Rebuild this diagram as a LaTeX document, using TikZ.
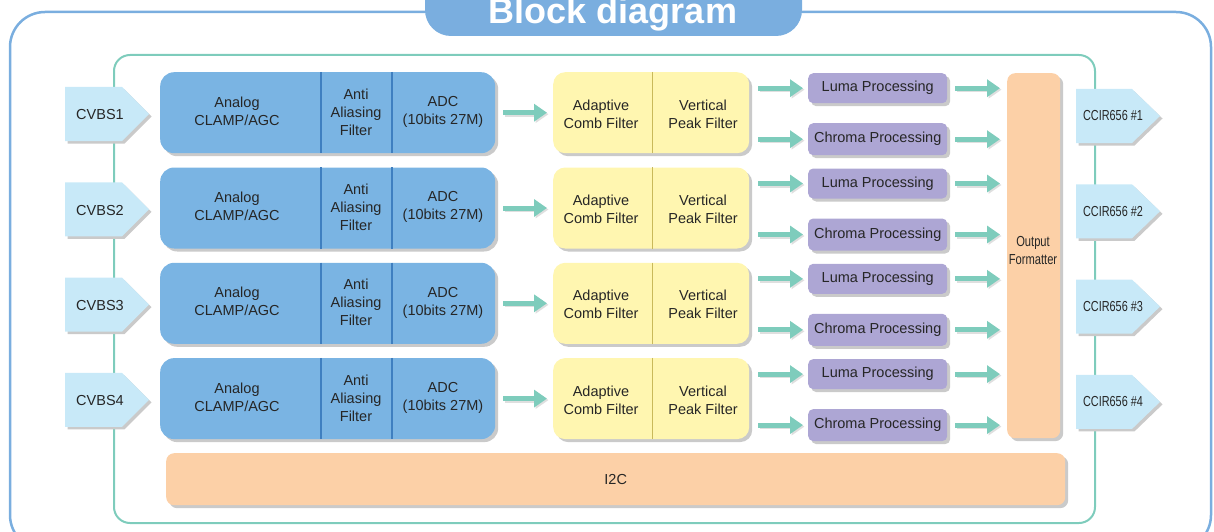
\documentclass[tikz,border=0pt]{standalone}
\usepackage{fontspec}
\setmainfont{Liberation Sans}
\usetikzlibrary{arrows.meta,calc}
\definecolor{outerblue}{HTML}{7AAEDF}
\definecolor{tealc}{HTML}{7ECCBC}
\definecolor{blueblk}{HTML}{7AB4E3}
\definecolor{bluediv}{HTML}{3F7FC0}
\definecolor{yellowblk}{HTML}{FFF6B0}
\definecolor{yellowdiv}{HTML}{C9B95A}
\definecolor{purpleblk}{HTML}{ADA6D4}
\definecolor{orangeblk}{HTML}{FCD0A7}
\definecolor{cyanlt}{HTML}{C8E9F8}
\definecolor{shadowc}{HTML}{CACACA}
\definecolor{textc}{HTML}{262626}
\begin{document}
\begin{tikzpicture}[x=1pt,y=-1pt,
  txt/.style={text=textc, align=center, inner sep=0pt, font=\fontsize{14.5}{18}\selectfont},
  shadowed/.style={preaction={fill=shadowc, draw=none, transform canvas={xshift=3pt,yshift=-3pt}}},
  blk/.style={shadowed, draw=none, inner sep=0pt, anchor=north west},
  blueblock/.style={blk, fill=blueblk, rounded corners=14pt, minimum width=335pt, minimum height=81pt},
  yellowblock/.style={blk, fill=yellowblk, rounded corners=12pt, minimum width=196pt, minimum height=81pt},
  procbox/.style={blk, fill=purpleblk, rounded corners=5pt, minimum width=139pt},
  orangebox/.style={blk, fill=orangeblk, rounded corners=8pt},
  pent/.style={fill=cyanlt, preaction={fill=shadowc, transform canvas={xshift=2.5pt,yshift=-2.5pt}}},
  tarrow/.style={draw=tealc, line width=5pt, -{Triangle[length=13pt,width=17pt]},
    preaction={draw=shadowc!60, line width=5pt, -{Triangle[length=13pt,width=17pt]}, transform canvas={xshift=1.5pt,yshift=-1.5pt}}}
]
\useasboundingbox (0,0) rectangle (1214,532);
\begin{scope}
\clip (0,0) rectangle (1214,532);
\draw[outerblue, line width=2.5pt, rounded corners=35pt] (10,12) rectangle (1211,550);
\fill[outerblue, rounded corners=26pt] (425,-40) rectangle (802,36);
\end{scope}
\node[anchor=base, text=white, inner sep=0pt, font=\bfseries\fontsize{36}{36}\selectfont] (title) at (613,24) {Block diagram};

\draw[tealc, line width=2pt, rounded corners=16pt] (114,55) rectangle (1095,523);

% output formatter and I2C
\node[orangebox, minimum width=53pt, minimum height=365pt] (outf) at (1007,73) {};
\node[txt] (outft) at (1033,251) {\scalebox{0.77}[1]{Output}\\\scalebox{0.77}[1]{Formatter}};
\node[orangebox, minimum width=899pt, minimum height=52pt] (i2c) at (166,453) {};
\node[txt] (i2ct) at (i2c.center) {I2C};

\foreach \i in {0,...,3}{
  \pgfmathsetmacro\yy{72+95.3*\i}
  % input pentagon
  \fill[pent] (65,\yy+15) -- (122,\yy+15) -- (149,\yy+42) -- (122,\yy+69) -- (65,\yy+69) -- cycle;
  \pgfmathtruncatemacro\k{\i+1}
  \node[txt] (cvbs\i) at (100,\yy+43) {CVBS\k};
  % output pentagon
  \fill[pent] (1076,\yy+17) -- (1132,\yy+17) -- (1160,\yy+44) -- (1132,\yy+71) -- (1076,\yy+71) -- cycle;
  \node[txt] (ccir\i) at (1113,\yy+44) {\scalebox{0.75}[1]{CCIR656 \#\k}};
  % blue block
  \node[blueblock] (blue\i) at (160,\yy) {};
  \draw[bluediv, line width=1.2pt] ([xshift=161pt]blue\i.north west) -- ([xshift=161pt]blue\i.south west);
  \draw[bluediv, line width=1.2pt] ([xshift=232pt]blue\i.north west) -- ([xshift=232pt]blue\i.south west);
  \node[txt] (ana\i) at (237,\yy+39) {Analog\\CLAMP/AGC};
  \node[txt] (aaf\i) at (356,\yy+40) {Anti\\Aliasing\\Filter};
  \node[txt] (adc\i) at (443,\yy+40) {ADC\\(10bits 27M)};
  % yellow block
  \node[yellowblock] (yel\i) at (553,\yy) {};
  \draw[yellowdiv, line width=1pt] ([xshift=99pt]yel\i.north west) -- ([xshift=99pt]yel\i.south west);
  \node[txt] (acf\i) at (601,\yy+42) {Adaptive\\Comb Filter};
  \node[txt] (vpf\i) at (703,\yy+42) {Vertical\\Peak Filter};
  % luma / chroma
  \node[procbox, minimum height=30pt] (luma\i) at (808,\yy+1) {};
  \node[txt] (lumat\i) at (luma\i.center) {Luma Processing};
  \node[procbox, minimum height=32pt] (chroma\i) at (808,\yy+51) {};
  \node[txt] (chromat\i) at (chroma\i.center) {Chroma Processing};
  % arrows
  \draw[tarrow] ([xshift=8pt]blue\i.east) -- ([xshift=-6pt]yel\i.west);
  \draw[tarrow] ($(yel\i.east |- luma\i.west)+(9,0)$) -- ([xshift=-5pt]luma\i.west);
  \draw[tarrow] ($(yel\i.east |- chroma\i.west)+(9,0)$) -- ([xshift=-5pt]chroma\i.west);
  \draw[tarrow] ([xshift=8pt]luma\i.east) -- ($(luma\i.east -| outf.west)+(-7,0)$);
  \draw[tarrow] ([xshift=8pt]chroma\i.east) -- ($(chroma\i.east -| outf.west)+(-7,0)$);
}
\end{tikzpicture}
\end{document}
